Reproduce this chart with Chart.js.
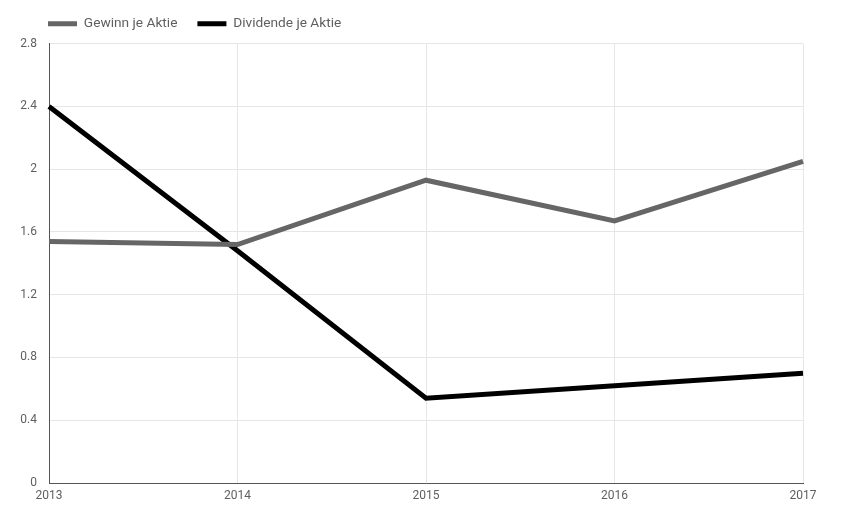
<!DOCTYPE html>
<html>
<head>
<meta charset="utf-8">
<script src="https://cdn.jsdelivr.net/npm/chart.js@4"></script>
<style>
  html, body { margin: 0; padding: 0; background: #fff; }
  #wrap { width: 854px; height: 520px; }
</style>
</head>
<body>
<div id="wrap"><canvas id="chart" width="854" height="520"></canvas></div>
<script>
// Chart data
const years = ['2013', '2014', '2015', '2016', '2017'];
const gewinn = [1.54, 1.52, 1.93, 1.67, 2.05];
const dividende = [2.40, 1.48, 0.54, 0.62, 0.70];
const yTicks = [0, 0.4, 0.8, 1.2, 1.6, 2, 2.4, 2.8];

const textColor = '#5f5f5f';
const gridColor = '#e6e6e6';

// nudge the legend to sit over the plot area like the original
const legendShift = {
    id: 'legendShift',
    afterLayout(chart) {
        chart.legend.left += 28;
        chart.legend.top -= 3;
    }
};

const ctx = document.getElementById('chart').getContext('2d');
new Chart(ctx, {
    type: 'line',
    data: {
        labels: years,
        datasets: [
            {
                label: 'Gewinn je Aktie',
                data: gewinn,
                borderColor: '#666666',
                backgroundColor: '#666666',
                borderWidth: 5,
                pointRadius: 0,
                tension: 0
            },
            {
                label: 'Dividende je Aktie',
                data: dividende,
                borderColor: '#000000',
                backgroundColor: '#000000',
                borderWidth: 5,
                pointRadius: 0,
                tension: 0
            }
        ]
    },
    plugins: [legendShift],
    options: {
        responsive: false,
        animation: false,
        layout: { padding: { left: 0, right: 51, top: 0, bottom: 0 } },
        plugins: {
            tooltip: { enabled: false },
            legend: {
                position: 'top',
                align: 'start',
                maxHeight: 44,
                labels: {
                    boxWidth: 29,
                    boxHeight: 5,
                    padding: 20,
                    color: textColor,
                    font: { family: 'Roboto', size: 13.7 },
                    generateLabels: (chart) => chart.data.datasets.map((ds, i) => ({
                        text: ds.label,
                        fillStyle: ds.borderColor,
                        strokeStyle: ds.borderColor,
                        lineWidth: 0,
                        fontColor: textColor,
                        datasetIndex: i,
                        hidden: false
                    }))
                }
            }
        },
        scales: {
            x: {
                offset: false,
                grid: { color: gridColor, drawTicks: false },
                border: { color: '#555555', width: 1 },
                ticks: {
                    color: textColor,
                    padding: 6,
                    maxRotation: 0,
                    font: { family: 'Roboto', size: 12 }
                },
                afterFit: (scale) => { scale.height = 37; }
            },
            y: {
                min: 0,
                max: 2.8,
                grid: { color: gridColor, drawTicks: false },
                border: { color: '#555555', width: 1 },
                afterBuildTicks: (scale) => {
                    scale.ticks = yTicks.map(v => ({ value: v }));
                },
                ticks: {
                    color: textColor,
                    padding: 12,
                    font: { family: 'Roboto', size: 12 },
                    callback: (v) => String(Math.round(v * 10) / 10)
                },
                afterFit: (scale) => { scale.width = 49; }
            }
        }
    }
});
</script>
</body>
</html>
